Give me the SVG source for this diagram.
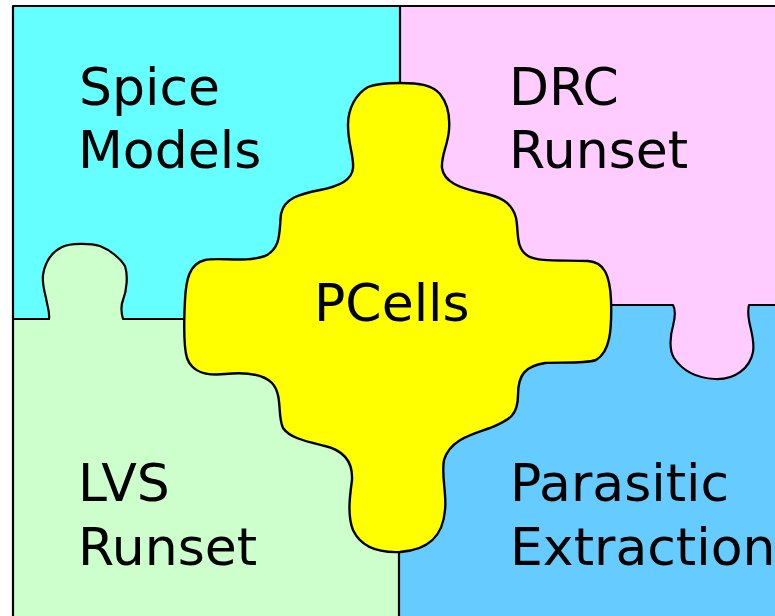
<svg xmlns="http://www.w3.org/2000/svg" width="775" height="616" viewBox="0 0 775 616">
  <style>
    .edge { fill: none; stroke: #000; stroke-width: 2.2; stroke-linejoin: round; stroke-linecap: round; }
    .knob { stroke: none; }
    .label { font-family: "DejaVu Sans", Verdana, sans-serif; font-size: 52px; fill: #000; }
  </style>
  <rect width="775" height="616" fill="#ffffff"/>

  <!-- four surrounding puzzle pieces -->
  <g id="spice-models">
    <rect x="13" y="6" width="387" height="313" fill="#66ffff"/>
    <text class="label" x="79" y="105">Spice</text>
    <text class="label" x="78" y="168">Models</text>
  </g>
  <g id="lvs-runset">
    <rect x="13" y="319" width="386" height="297" fill="#ccffcc"/>
    <path class="knob" fill="#ccffcc" d="M49,320 C50,312 47,305 46,298 C44,290 42,282 43,275 C45,262 52,252 62,247 C70,243 90,243 100,246 C110,250 120,258 125,266 C128,275 127,290 123,300 C121,305 121,312 123,320 Z"/>
    <text class="label" x="78" y="501">LVS</text>
    <text class="label" x="78" y="565">Runset</text>
  </g>
  <g id="parasitic-extraction">
    <rect x="399" y="305" width="376" height="311" fill="#66ccff"/>
    <text class="label" x="510" y="501">Parasitic</text>
    <text class="label" x="510" y="565">Extraction</text>
  </g>
  <g id="drc-runset">
    <rect x="400" y="6" width="375" height="299" fill="#ffccff"/>
    <path class="knob" fill="#ffccff" d="M673,304 C676,310 675,318 673,326 C670,336 669,350 674,358 C682,370 695,378 715,379 C735,380 750,368 753,352 C755,340 750,328 749,320 C748,314 748,309 749,304 Z"/>
    <text class="label" x="509" y="105">DRC</text>
    <text class="label" x="509" y="168">Runset</text>
  </g>

  <!-- seams between the pieces -->
  <g id="seams">
    <path class="edge" d="M13,616 V6 H775"/>
    <path class="edge" d="M400,6 V90"/>
    <path class="edge" d="M399,540 V616"/>
    <path class="edge" d="M13,319 H49 C50,312 47,305 46,298 C44,290 42,282 43,275 C45,262 52,252 62,247 C70,243 90,243 100,246 C110,250 120,258 125,266 C128,275 127,290 123,300 C121,305 121,312 123,319 H190"/>
    <path class="edge" d="M600,305 H673 C676,310 675,318 673,326 C670,336 669,350 674,358 C682,370 695,378 715,379 C735,380 750,368 753,352 C755,340 750,328 749,320 C748,314 748,309 749,305 H776"/>
  </g>

  <!-- central piece -->
  <g id="pcells">
    <path fill="#ffff00" stroke="#000" stroke-width="2.4" stroke-linejoin="round" d="M400,83 C420,83 432,85 440,94 C448,104 450,118 449,130 C448,145 441,155 442,168 C444,182 460,188 478,192 C500,196 512,202 516,218 C519,232 515,248 528,256 C538,262 560,260 588,261 C604,262 610,275 611,300 C612,330 610,352 596,360 C584,364 560,362 545,363 C525,366 518,375 518,395 C518,415 510,420 490,428 C470,435 450,440 444,460 C441,475 447,495 445,510 C443,535 430,550 400,552 C375,553 360,545 353,530 C347,515 350,495 352,480 C353,460 342,450 325,446 C305,441 290,438 283,428 C277,415 283,395 272,383 C262,373 245,372 225,374 C205,376 192,372 187,358 C183,345 184,320 185,300 C186,280 189,264 205,260 C220,257 245,263 265,256 C282,248 279,230 281,214 C284,198 300,194 320,190 C340,186 352,180 353,168 C354,155 348,145 348,125 C348,108 356,94 368,87 C378,83 390,83 400,83 Z"/>
    <text class="label" x="314" y="321">PCells</text>
  </g>
</svg>
